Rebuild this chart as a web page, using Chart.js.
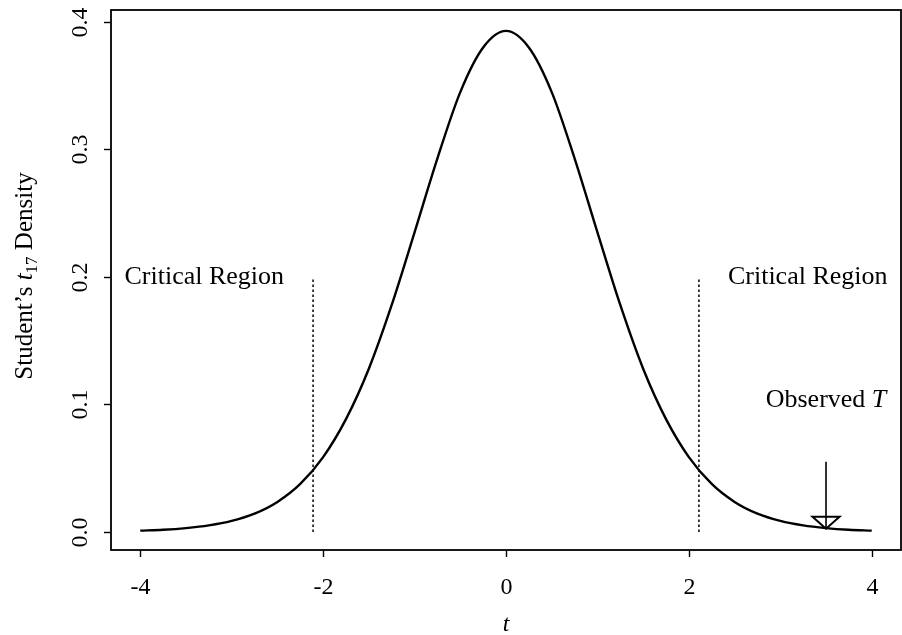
<!DOCTYPE html>
<html>
<head>
<meta charset="utf-8">
<script src="https://cdn.jsdelivr.net/npm/chart.js@4/dist/chart.umd.min.js"></script>
<style>
  html, body { margin: 0; padding: 0; background: #fff; }
  #wrap { width: 902px; height: 635px; }
</style>
</head>
<body>
<div id="wrap"><canvas id="chart" width="902" height="635"></canvas></div>
<script>
// t17 density
const tValues = [-4, -3.75, -3.5, -3.25, -3, -2.75, -2.5, -2.25, -2, -1.75, -1.5, -1.25, -1, -0.75, -0.5, -0.25,
  0, 0.25, 0.5, 0.75, 1, 1.25, 1.5, 1.75, 2, 2.25, 2.5, 2.75, 3, 3.25, 3.5, 3.75, 4];
const density = [0.0010, 0.0017, 0.0030, 0.0051, 0.0086, 0.0143, 0.0235, 0.0376, 0.0587, 0.0885, 0.128, 0.178, 0.235, 0.293, 0.345, 0.380,
  0.393, 0.380, 0.345, 0.293, 0.235, 0.178, 0.128, 0.0885, 0.0587, 0.0376, 0.0235, 0.0143, 0.0086, 0.0051, 0.0030, 0.0017, 0.0010];

// critical values and the height of the dotted markers
const criticalT = [-2.11, 2.11];
const criticalTop = 0.2;

// observed statistic arrow
const observedT = 3.5;
const arrowFrom = 0.055;
const arrowTo = 0.0025;

const xTicks = [-4, -2, 0, 2, 4];
const yTicks = [0.0, 0.1, 0.2, 0.3, 0.4];

const labels = [
  { x: -3.3, y: 0.2, text: 'Critical Region' },
  { x: 3.3, y: 0.2, text: 'Critical Region' }
];

const serif = '"Liberation Serif", "DejaVu Serif", serif';

const curve = tValues.map((t, i) => ({ x: t, y: density[i] }));

const datasets = [{
  data: curve,
  showLine: true,
  borderColor: '#000',
  borderWidth: 2.4,
  pointRadius: 0,
  cubicInterpolationMode: 'monotone'
}];

criticalT.forEach(c => {
  datasets.push({
    data: [{ x: c, y: 0 }, { x: c, y: criticalTop }],
    showLine: true,
    borderColor: '#000',
    borderWidth: 1.5,
    borderDash: [2.5, 2.5],
    pointRadius: 0
  });
});

datasets.push({
  data: [{ x: observedT, y: arrowFrom }, { x: observedT, y: arrowTo }],
  showLine: true,
  borderColor: '#000',
  borderWidth: 1.6,
  pointRadius: 0
});

// R-style frame, ticks, labels and annotations
const decorations = {
  id: 'decorations',
  afterDatasetsDraw(chart) {
    const { ctx, chartArea: a, scales: { x, y } } = chart;
    ctx.save();
    ctx.strokeStyle = '#000';
    ctx.fillStyle = '#000';

    ctx.lineWidth = 1.8;
    ctx.strokeRect(a.left, a.top, a.right - a.left, a.bottom - a.top);

    ctx.lineWidth = 1.4;
    ctx.font = '24px ' + serif;
    ctx.textAlign = 'center';
    ctx.textBaseline = 'alphabetic';
    xTicks.forEach(v => {
      const px = Math.round(x.getPixelForValue(v)) + 0.5;
      ctx.beginPath();
      ctx.moveTo(px, a.bottom);
      ctx.lineTo(px, a.bottom + 7);
      ctx.stroke();
      ctx.fillText(String(v), px, 594);
    });

    yTicks.forEach(v => {
      const py = Math.round(y.getPixelForValue(v)) + 0.5;
      ctx.beginPath();
      ctx.moveTo(a.left, py);
      ctx.lineTo(a.left - 7, py);
      ctx.stroke();
      ctx.save();
      ctx.translate(87, py);
      ctx.rotate(-Math.PI / 2);
      ctx.fillText(v.toFixed(1), 0, 0);
      ctx.restore();
    });

    // axis titles
    ctx.font = 'italic 24px ' + serif;
    ctx.fillText('t', (a.left + a.right) / 2, 631);

    ctx.save();
    ctx.translate(32, (a.top + a.bottom) / 2 - 4);
    ctx.rotate(-Math.PI / 2);
    const parts = [
      { s: 'Student\u2019s ', f: '25px ' + serif, dy: 0 },
      { s: 't', f: 'italic 25px ' + serif, dy: 0 },
      { s: '17', f: '17px ' + serif, dy: 5 },
      { s: ' Density', f: '25px ' + serif, dy: 0 }
    ];
    let total = 0;
    parts.forEach(p => { ctx.font = p.f; total += ctx.measureText(p.s).width; });
    let cx = -total / 2;
    ctx.textAlign = 'left';
    parts.forEach(p => {
      ctx.font = p.f;
      ctx.fillText(p.s, cx, p.dy);
      cx += ctx.measureText(p.s).width;
    });
    ctx.restore();

    // region labels
    ctx.textAlign = 'center';
    ctx.textBaseline = 'middle';
    ctx.font = '26px ' + serif;
    labels.forEach(l => {
      ctx.fillText(l.text, x.getPixelForValue(l.x), y.getPixelForValue(l.y));
    });

    // "Observed T"
    const ox = x.getPixelForValue(observedT);
    const oy = y.getPixelForValue(0.103);
    ctx.font = '26px ' + serif;
    const w1 = ctx.measureText('Observed ').width;
    ctx.font = 'italic 26px ' + serif;
    const w2 = ctx.measureText('T').width;
    ctx.textAlign = 'left';
    ctx.font = '26px ' + serif;
    ctx.fillText('Observed ', ox - (w1 + w2) / 2, oy);
    ctx.font = 'italic 26px ' + serif;
    ctx.fillText('T', ox - (w1 + w2) / 2 + w1, oy);

    // open arrow head
    const tipY = y.getPixelForValue(arrowTo);
    ctx.lineWidth = 2;
    ctx.beginPath();
    ctx.moveTo(ox, tipY);
    ctx.lineTo(ox - 13.5, tipY - 12);
    ctx.lineTo(ox + 13.5, tipY - 12);
    ctx.closePath();
    ctx.stroke();

    ctx.restore();
  }
};

new Chart(document.getElementById('chart'), {
  type: 'scatter',
  data: { datasets },
  options: {
    responsive: false,
    animation: false,
    events: [],
    layout: { padding: { left: 111, top: 10, right: 1, bottom: 85 } },
    plugins: { legend: { display: false }, tooltip: { enabled: false } },
    scales: {
      x: { type: 'linear', min: -4.32, max: 4.32, display: false },
      y: { type: 'linear', min: -0.0142, max: 0.4094, display: false }
    }
  },
  plugins: [decorations]
});
</script>
</body>
</html>
